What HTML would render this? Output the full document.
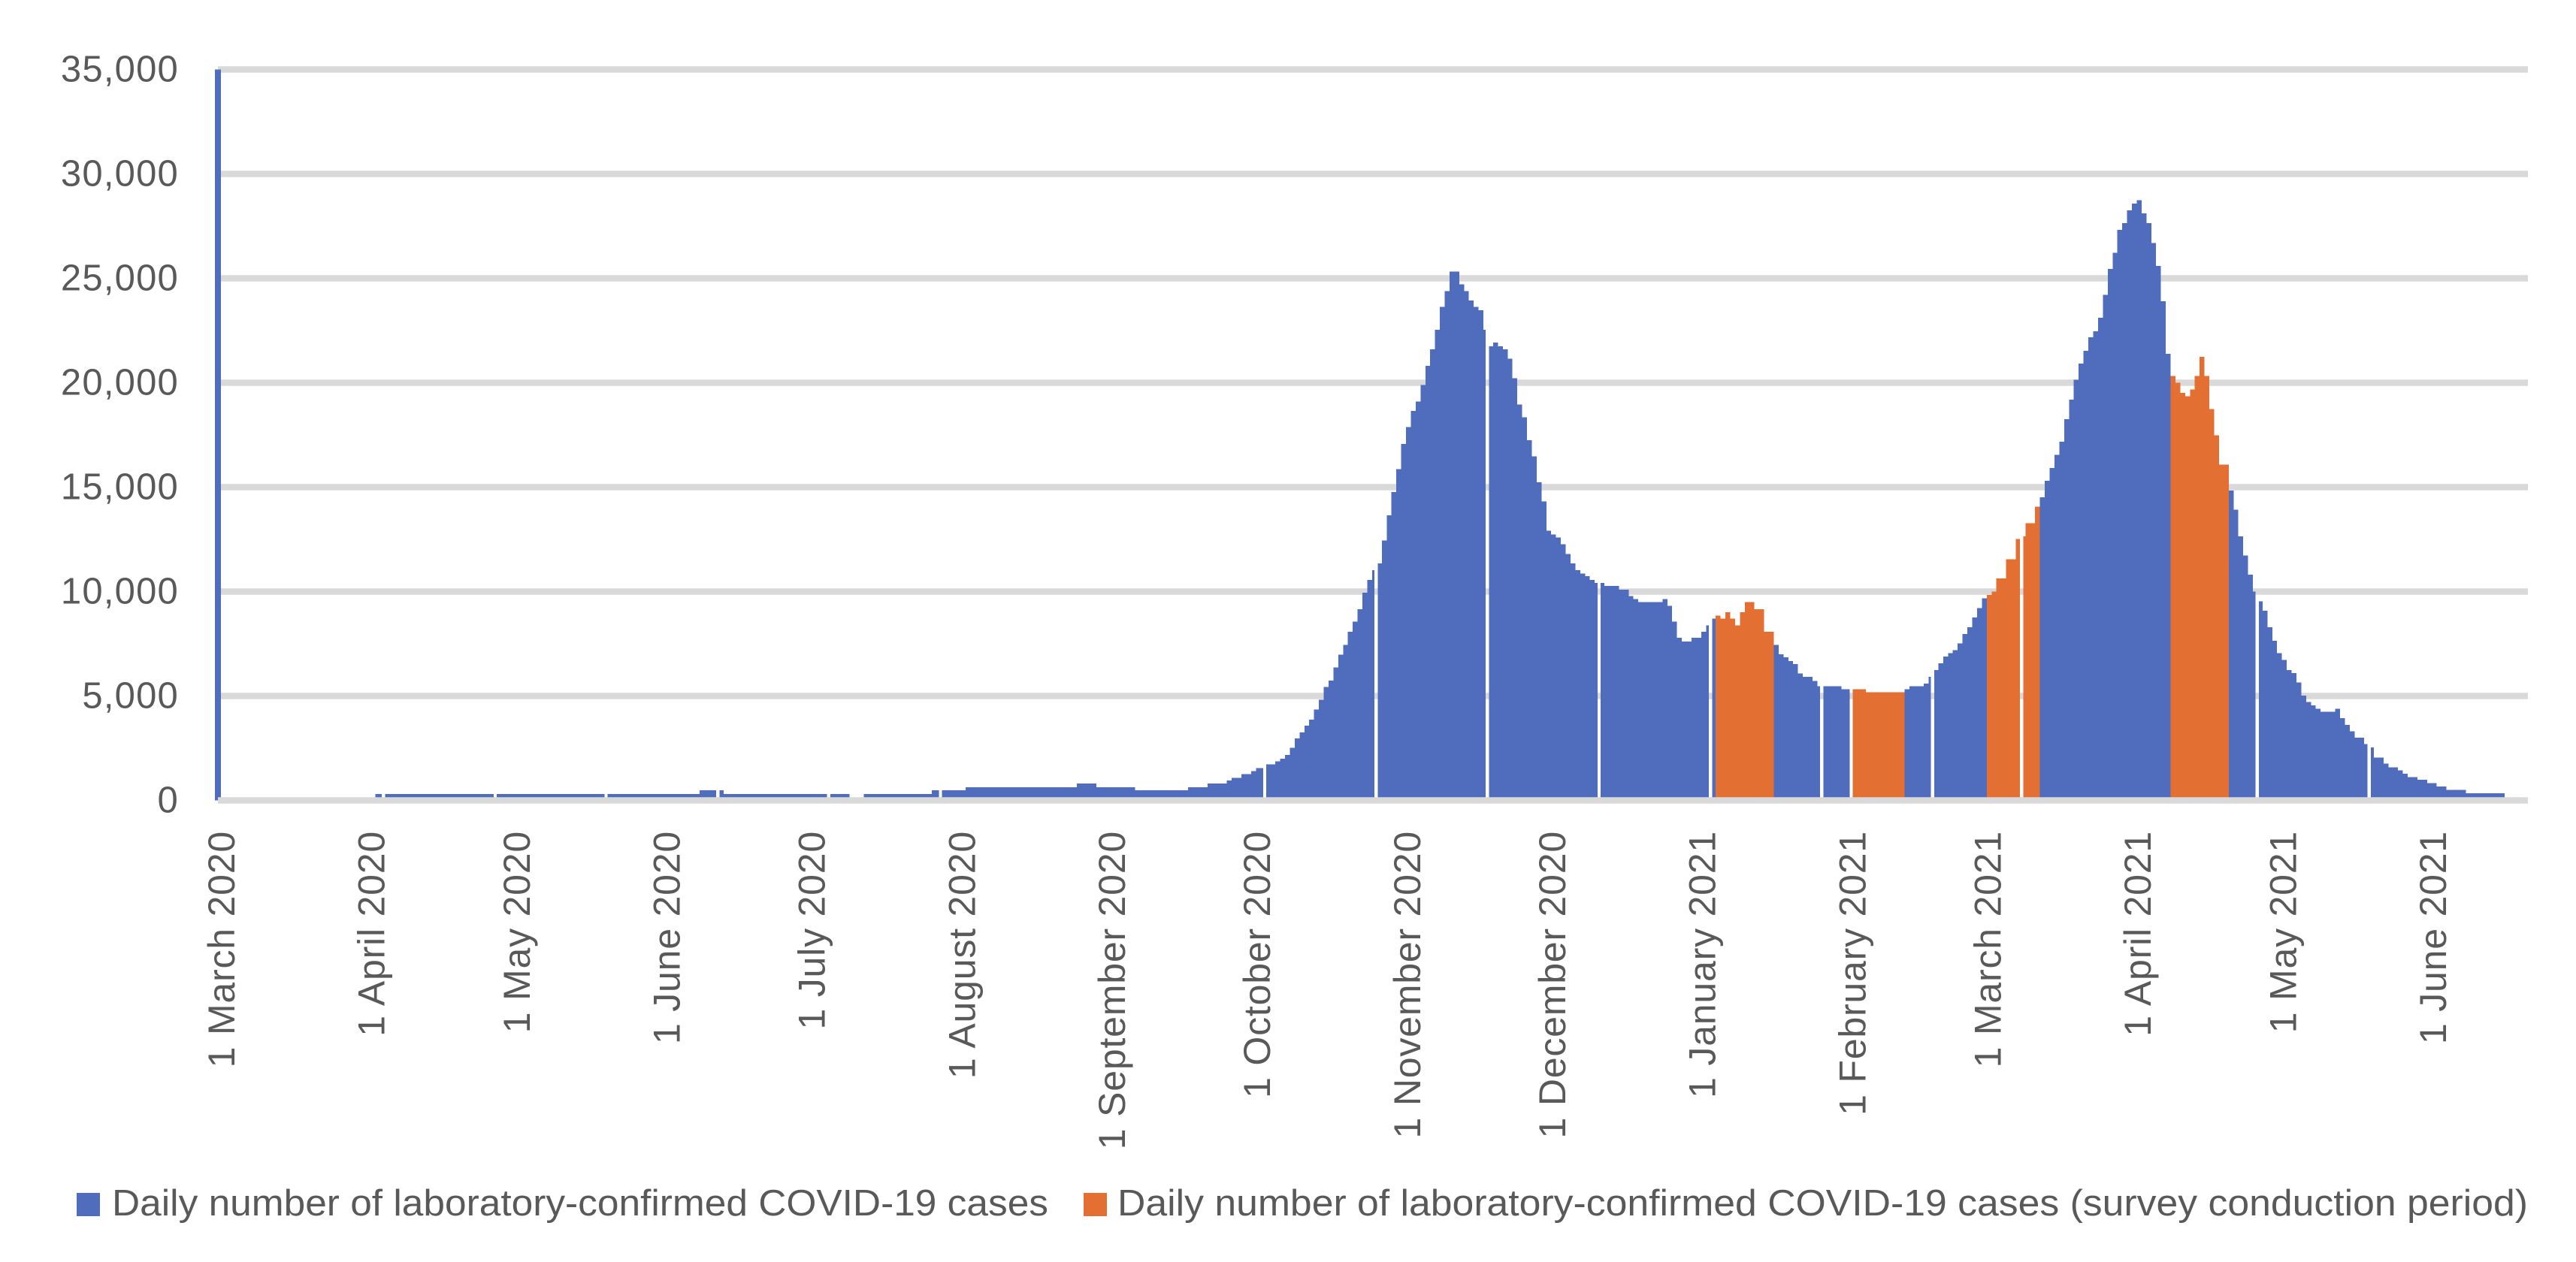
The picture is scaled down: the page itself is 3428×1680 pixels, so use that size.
<!DOCTYPE html>
<html lang="en">
<head>
<meta charset="utf-8">
<title>Daily number of laboratory-confirmed COVID-19 cases</title>
<style>
html,body{margin:0;padding:0;background:#fff;}
svg{display:block;font-family:"Liberation Sans",Arial,sans-serif;}
text{fill:#595959;}
</style>
</head>
<body>
<svg id="chart" xmlns="http://www.w3.org/2000/svg" width="3428" height="1680" viewBox="0 0 3428 1680">
  <rect x="0" y="0" width="3428" height="1680" fill="#ffffff"/>
  <g id="grid"></g>
  <g id="bars" shape-rendering="crispEdges"></g>
  <g id="baseline"></g>
  <g id="yLabels"></g>
  <g id="xLabels"></g>
  <g>
    <g>
      <rect x="102" y="1588" width="31" height="31" fill="#4F6CBD"/>
      <text x="149" y="1618" font-size="49" textLength="1246" lengthAdjust="spacingAndGlyphs">Daily number of laboratory-confirmed COVID-19 cases</text>
    </g>
    <g>
      <rect x="1442" y="1588" width="31" height="31" fill="#E46F33"/>
      <text x="1487" y="1618" font-size="49" textLength="1877" lengthAdjust="spacingAndGlyphs">Daily number of laboratory-confirmed COVID-19 cases (survey conduction period)</text>
    </g>
  </g>
</svg>
<script>
// ---- chart data ----
const yTicks = [0, 5000, 10000, 15000, 20000, 25000, 30000, 35000];
const tickLabels = ["1 March 2020","1 April 2020","1 May 2020","1 June 2020","1 July 2020","1 August 2020","1 September 2020","1 October 2020","1 November 2020","1 December 2020","1 January 2021","1 February 2021","1 March 2021","1 April 2021","1 May 2021","1 June 2021"];
const tickDays = [0,31,61,92,122,153,184,214,245,275,306,337,365,396,426,457];
// survey conduction periods, as first / last day index (days since 1 March 2020)
const surveyStart = [310,338,366,404];
const surveyEnd = [321,348,376,415];
// days at which the source chart has a missing sliver between bars
const gapDays = [34.2,57.3,80.2,103.3,126.2,149.3,216.3,239.3,262.3,285.4,308.4,331.4,337.5,354.3,372.7,421.4,444.5];
// one value per day starting 1 March 2020
const dailyCases = [
35000,0,0,0,0,0,0,0,0,0,
0,0,0,0,0,0,0,0,0,0,
0,0,0,0,0,0,0,0,0,0,
0,0,0,304,304,304,304,304,304,304,
304,304,304,304,304,304,304,304,304,304,
304,304,304,304,304,304,304,304,304,304,
304,304,304,304,304,304,304,304,304,304,
304,304,304,304,304,304,304,304,304,304,
304,304,304,304,304,304,304,304,304,304,
304,304,304,304,304,304,304,304,304,304,
483,483,483,483,483,304,304,304,304,304,
304,304,304,304,304,304,304,304,304,304,
304,304,304,304,304,304,304,304,304,304,
304,0,0,0,304,304,304,304,304,304,
304,304,304,304,304,304,304,304,483,483,
483,483,483,483,483,626,626,626,626,626,
626,626,626,626,626,626,626,626,626,626,
626,626,626,626,626,626,626,626,805,805,
805,805,626,626,626,626,626,626,626,626,
483,483,483,483,483,483,483,483,483,483,
483,626,626,626,626,805,805,805,805,945,
1073,1073,1255,1255,1400,1545,1545,1727,1727,1873,
2000,2182,2509,2963,3254,3582,3872,4345,4818,5436,
5745,6363,6980,7454,8072,8563,9163,9945,10563,11017,
11345,12454,13654,14763,15872,17072,17872,18654,19109,19890,
20818,21600,22527,23636,24381,25327,25327,24709,24381,23945,
23636,23472,22527,21745,21927,21745,21600,21145,20218,18963,
18345,17254,16472,15236,14309,12909,12727,12582,12272,11800,
11345,11018,10872,10745,10563,10418,10418,10272,10272,10272,
10091,10091,9781,9636,9490,9490,9490,9490,9490,9636,
9309,8563,7781,7600,7600,7781,7781,8072,8381,8708,
8854,8708,9018,8708,8381,9018,9490,9490,9163,9163,
8072,8072,7454,7000,6854,6672,6527,6072,5924,5924,
5723,5462,5462,5462,5462,5462,5321,5321,5321,5321,
5321,5180,5180,5180,5180,5180,5180,5180,5180,5321,
5462,5462,5462,5602,5924,6245,6566,6887,7048,7189,
7510,7972,8293,8755,9217,9679,9839,10000,10622,10622,
11546,11546,12510,12650,13273,13273,14056,14518,15301,15923,
16546,17168,18253,19196,20140,20923,21526,22168,22469,23112,
24216,25441,26224,27328,27649,28252,28573,28734,28112,27649,
26686,25602,23895,21385,20321,20000,19518,19357,19678,20321,
21245,20321,18735,17490,16084,16084,14839,13915,12650,11726,
10803,10000,9538,9076,8293,7650,7048,6727,6245,6104,
5642,5020,4719,4558,4397,4237,4237,4237,4397,3936,
3614,3313,3012,3012,2691,2530,2048,2048,1767,1586,
1586,1446,1285,1124,1124,984,984,823,823,663,
663,502,502,502,502,341,341,341,341,341,
341,341,341
];

// ---- axis functions ----
const NS = "http://www.w3.org/2000/svg";
const dayWidth = 6.44;
const plotLeft = 290;
const plotRight = 3364;
const yZero = 1065.5;
const yMax = 92.5;
const BLUE = "#4F6CBD";
const ORANGE = "#E46F33";
const GRID = "#D9D9D9";
function xScale(day){ return plotLeft + dayWidth * day; }
function yScale(value){ return yZero - (yZero - yMax) * value / 35000; }
function isSurvey(day){
  for (let k = 0; k < surveyStart.length; k++){
    if (day >= surveyStart[k] && day <= surveyEnd[k]) return true;
  }
  return false;
}
const gridG = document.getElementById("grid");
const barsG = document.getElementById("bars");
const baseG = document.getElementById("baseline");
const yG = document.getElementById("yLabels");
const xG = document.getElementById("xLabels");

// gridlines + y labels
yTicks.forEach(function(v){
  const line = document.createElementNS(NS, "rect");
  
  
  line.setAttribute("x", plotLeft);
  line.setAttribute("y", yScale(v) - 4.25);
  line.setAttribute("width", plotRight - plotLeft);
  line.setAttribute("height", 8.5);
  line.setAttribute("fill", GRID);
  (v === 0 ? baseG : gridG).appendChild(line);

  const t = document.createElementNS(NS, "text");
  
  
  t.setAttribute("x", 238);
  t.setAttribute("y", yScale(v) + 16);
  t.setAttribute("font-size", "49");
  t.setAttribute("text-anchor", "end");
  t.setAttribute("letter-spacing", "1.2");
  t.textContent = v.toLocaleString("en-US");
  yG.appendChild(t);
});

// bars, split where a gap crosses them
const halfGap = 2.2;
function addBar(x0, x1, value, day){
  if (x1 - x0 <= 0.2 || value <= 0) return;
  const r = document.createElementNS(NS, "rect");
  
  
  r.setAttribute("x", x0);
  r.setAttribute("y", yScale(value));
  r.setAttribute("width", x1 - x0);
  r.setAttribute("height", yZero - yScale(value));
  r.setAttribute("fill", isSurvey(day) ? ORANGE : BLUE);
  barsG.appendChild(r);
}
dailyCases.forEach(function(value, day){
  let x0 = xScale(day) - dayWidth / 2;
  let x1 = x0 + dayWidth;
  if (day === 0){ x0 -= 0.8; x1 += 0.8; }
  gapDays.forEach(function(g){
    const gx = xScale(g);
    if (gx + halfGap > x0 && gx - halfGap < x1){
      addBar(x0, Math.min(gx - halfGap, x1), value, day);
      x0 = Math.max(x0, gx + halfGap);
    }
  });
  addBar(x0, x1, value, day);
});

// x labels
tickLabels.forEach(function(label, k){
  const bx = xScale(tickDays[k]) + 22;
  const t = document.createElementNS(NS, "text");
  
  
  t.setAttribute("font-size", "50");
  t.setAttribute("text-anchor", "end");
  t.setAttribute("transform", "translate(" + bx + ",1106) rotate(-90)");
  t.setAttribute("letter-spacing", "0.8");
  t.textContent = label;
  xG.appendChild(t);
});
</script>
</body>
</html>
